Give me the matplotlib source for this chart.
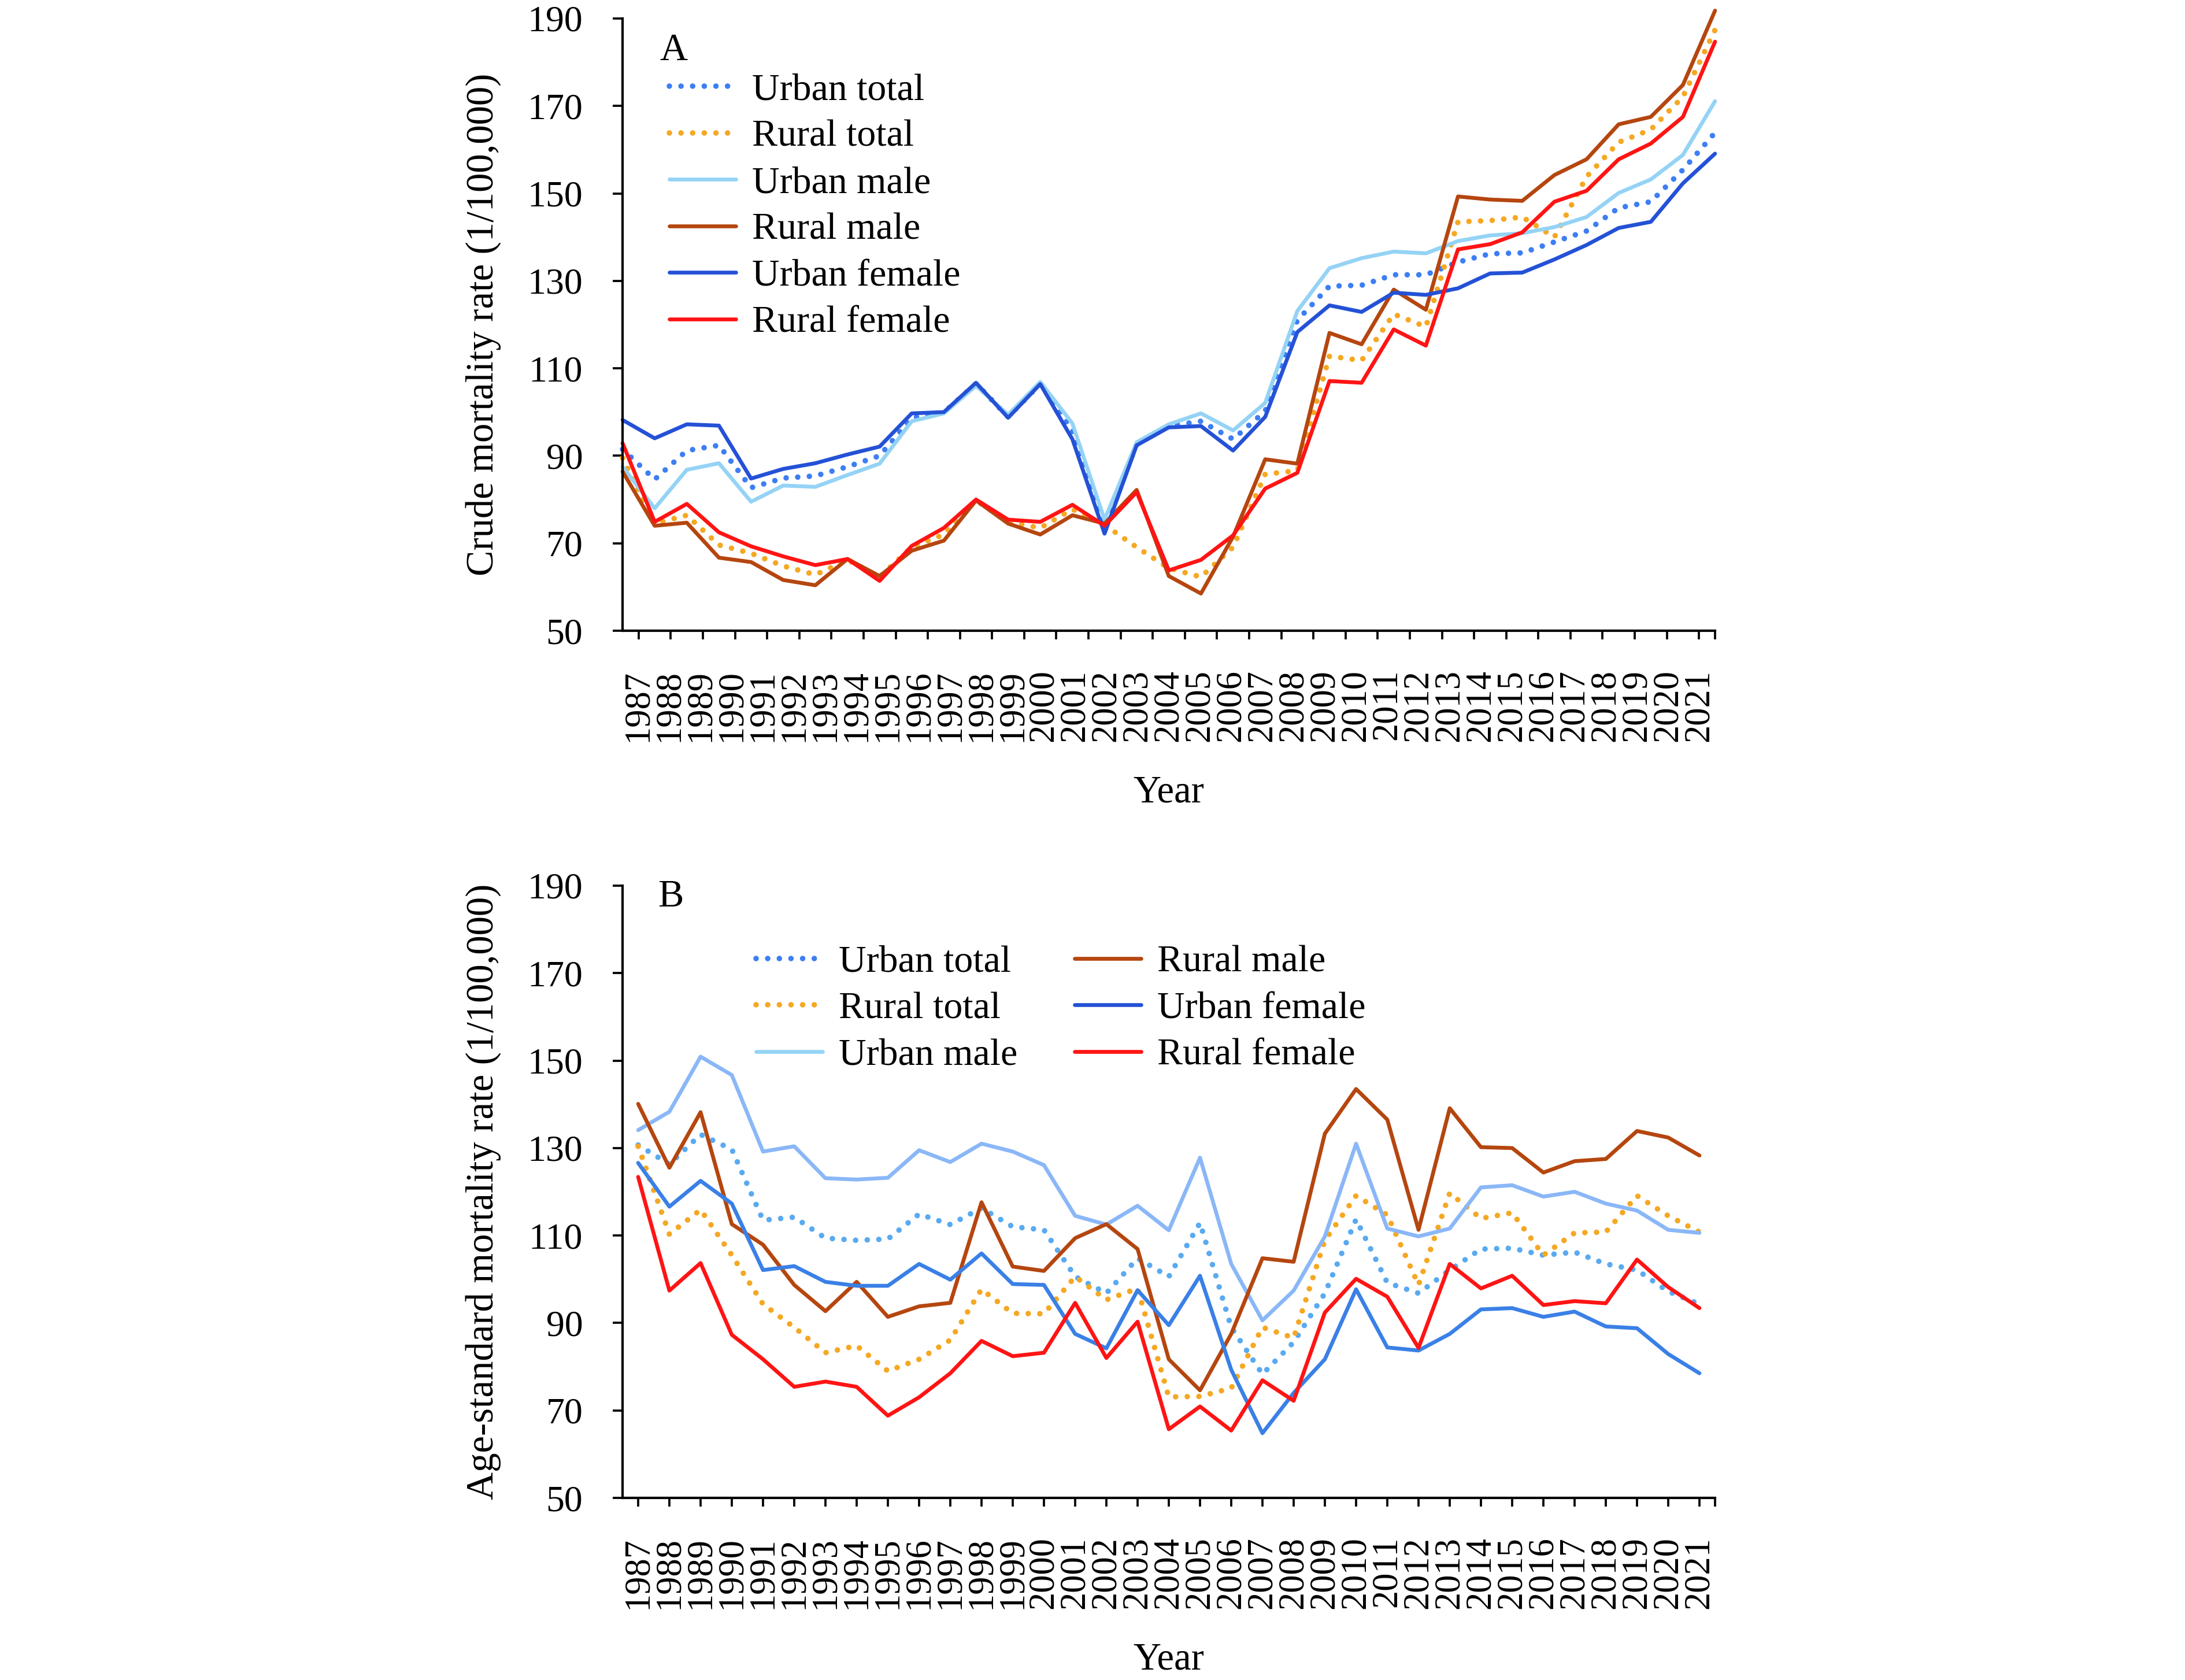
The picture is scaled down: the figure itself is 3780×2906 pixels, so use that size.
import matplotlib
matplotlib.use("Agg")
import matplotlib.pyplot as plt
from matplotlib.lines import Line2D

plt.rcParams['font.family'] = ['Liberation Serif', 'DejaVu Serif']

years = list(range(1987, 2022))

# Panel A: crude mortality rate (1/100,000)
a_urban_total = [91.5, 84.6, 91.2, 92.4, 82.7, 84.9, 85.4, 87.5, 90.0, 98.7, 99.9, 106.5, 98.9, 106.5,
                 95.8, 74.0, 92.6, 96.8, 97.9, 93.8, 100.2, 121.0, 128.8, 129.0, 131.4, 131.4, 134.3,
                 136.2, 136.4, 138.9, 141.4, 146.7, 148.1, 155.4, 163.9]
a_rural_total = [89.5, 74.5, 76.4, 69.6, 67.7, 64.8, 62.8, 66.2, 62.3, 69.1, 72.0, 79.8, 74.9, 73.5,
                 77.8, 74.2, 69.1, 64.3, 62.3, 69.1, 85.8, 86.6, 112.8, 111.8, 122.4, 119.5, 143.5,
                 143.8, 144.6, 140.0, 153.8, 161.7, 164.6, 172.1, 187.4]
a_urban_male = [87.5, 78.0, 86.8, 88.3, 79.5, 83.2, 82.9, 85.6, 88.2, 97.9, 99.7, 106.0, 99.4, 106.9,
                97.4, 75.4, 93.1, 97.2, 99.7, 95.8, 102.1, 123.1, 132.9, 135.2, 136.7, 136.3, 139.1,
                140.4, 140.9, 142.3, 144.6, 150.1, 153.2, 158.8, 171.1]
a_rural_male = [86.4, 74.0, 74.7, 66.7, 65.7, 61.6, 60.4, 66.4, 62.5, 68.3, 70.6, 79.8, 74.5, 72.0,
                76.4, 74.5, 82.2, 62.5, 58.5, 71.5, 89.2, 88.2, 118.1, 115.5, 128.0, 123.4, 149.3,
                148.6, 148.3, 154.2, 157.8, 165.8, 167.5, 174.8, 191.8]
a_urban_female = [98.2, 94.0, 97.2, 96.9, 84.8, 87.0, 88.3, 90.3, 92.1, 99.7, 100.0, 106.7, 98.7, 106.4,
                  93.8, 72.2, 92.4, 96.5, 96.8, 91.2, 98.9, 118.3, 124.4, 122.9, 127.3, 126.8, 128.3,
                  131.7, 131.9, 134.9, 138.2, 142.1, 143.5, 152.3, 159.1]
a_rural_female = [92.9, 74.9, 79.0, 72.5, 69.3, 67.0, 65.0, 66.4, 61.4, 69.4, 73.5, 80.0, 75.4, 74.9,
                  78.8, 74.0, 81.7, 63.8, 66.2, 71.8, 82.5, 86.1, 107.1, 106.7, 118.9, 115.2, 137.2,
                  138.4, 141.1, 148.1, 150.6, 157.8, 161.4, 167.5, 184.7]

# Panel B: age-standardized mortality rate (1/100,000)
b_urban_total = [130.7, 126.3, 133.1, 129.7, 113.5, 114.2, 109.4, 108.9, 109.2, 114.9, 112.5, 116.3,
                 112.0, 111.3, 100.6, 96.8, 104.8, 100.6, 112.9, 89.0, 78.3, 85.6, 96.8, 113.7, 99.2,
                 96.8, 102.1, 106.9, 107.1, 105.5, 106.2, 103.5, 102.1, 97.2, 94.3]
b_rural_total = [130.4, 110.3, 115.9, 105.5, 94.3, 89.0, 83.2, 84.8, 79.0, 81.7, 86.1, 97.7, 92.2, 92.1,
                 100.6, 95.3, 97.9, 73.1, 73.2, 75.1, 89.0, 86.6, 108.9, 119.1, 114.7, 98.7, 119.7,
                 113.9, 115.2, 105.5, 110.6, 110.8, 119.1, 114.5, 110.8]
b_urban_male = [134.1, 138.3, 150.9, 146.7, 129.2, 130.4, 123.1, 122.8, 123.2, 129.5, 126.8, 131.0,
                129.2, 126.1, 114.5, 112.5, 116.8, 111.2, 127.8, 103.5, 90.6, 97.4, 109.8, 131.0, 111.6,
                109.8, 111.6, 121.0, 121.5, 118.9, 120.0, 117.3, 115.7, 111.3, 110.6]
b_rural_male = [140.1, 125.5, 138.2, 112.6, 107.9, 98.7, 92.7, 99.4, 91.4, 93.8, 94.6, 117.6, 102.9,
                101.9, 109.4, 112.6, 106.9, 81.7, 74.6, 87.5, 104.8, 104.0, 133.3, 143.5, 136.5, 111.3,
                139.1, 130.2, 130.0, 124.4, 127.0, 127.5, 133.9, 132.4, 128.3]
b_urban_female = [126.6, 116.6, 122.5, 117.3, 102.1, 103.0, 99.4, 98.5, 98.5, 103.5, 99.9, 105.9, 98.9,
                  98.7, 87.5, 84.2, 97.5, 89.5, 100.8, 79.3, 64.8, 74.0, 81.7, 97.7, 84.4, 83.7, 87.5,
                  93.1, 93.4, 91.4, 92.6, 89.2, 88.8, 82.9, 78.5]
b_rural_female = [123.4, 97.4, 103.7, 87.3, 81.7, 75.4, 76.6, 75.4, 68.8, 73.0, 78.5, 85.9, 82.4, 83.2,
                  94.6, 82.0, 90.3, 65.7, 70.9, 65.4, 76.9, 72.2, 92.4, 100.1, 96.0, 84.3, 103.5, 97.9,
                  100.8, 94.1, 95.0, 94.5, 104.5, 98.2, 93.4]

series_names = ["Urban total", "Rural total", "Urban male", "Rural male", "Urban female", "Rural female"]
styles = ["dot", "dot", "solid", "solid", "solid", "solid"]
colors_a = ["#3D7EF3", "#F5A823", "#94D3F5", "#B5460F", "#2451D6", "#FF1414"]
colors_b = ["#59AAF0", "#F5A823", "#8AB7F7", "#B5460F", "#3A80E6", "#FF1414"]

yticks = list(range(50, 191, 20))

W, H = 3780, 2906
fig = plt.figure(figsize=(W / 300, H / 300), dpi=300)

def px_axes(left, top, right, bottom):
    return fig.add_axes([left / W, 1 - bottom / H, (right - left) / W, (bottom - top) / H])

axA = px_axes(1077, 32, 2967, 1091)
axB = px_axes(1077, 1532, 2967, 2591)

DOT = (0, (0.001, 2.1))
LW_DOT = 2.3
LW_SOLID = 1.6

def draw(ax, data, colors):
    x = list(range(len(years)))
    for vals, st, c in zip(data, styles, colors):
        if st == "dot":
            ax.plot(x, vals, color=c, lw=LW_DOT, linestyle=DOT, dash_capstyle='round', clip_on=False)
        else:
            ax.plot(x, vals, color=c, lw=LW_SOLID, solid_joinstyle='round', solid_capstyle='round',
                    clip_on=False)

def legend_handles(colors):
    hs = []
    for st, c in zip(styles, colors):
        if st == "dot":
            hs.append(Line2D([], [], color=c, lw=LW_DOT, linestyle=DOT, dash_capstyle='round'))
        else:
            hs.append(Line2D([], [], color=c, lw=LW_SOLID, solid_capstyle='round'))
    return hs

def style_axes(ax, ylabel):
    for s in ['top', 'right']:
        ax.spines[s].set_visible(False)
    for s in ['left', 'bottom']:
        ax.spines[s].set_linewidth(1.0)
    ax.set_ylim(50, 190)
    ax.set_yticks(yticks)
    ax.set_yticklabels([str(v) for v in yticks])
    ax.tick_params(axis='y', direction='out', length=4.0, width=0.9, pad=12.5, labelsize=15.3)
    ax.set_ylabel(ylabel, fontsize=16, va='center')
    ax.yaxis.set_label_coords(-0.1275, 0.5)
    ax.set_xlabel("Year", fontsize=16, va='center')
    ax.xaxis.set_label_coords(0.5, -0.264)

# Panel A
draw(axA, [a_urban_total, a_rural_total, a_urban_male, a_rural_male, a_urban_female, a_rural_female], colors_a)
style_axes(axA, "Crude mortality rate (1/100,000)")
n = len(years)
axA.set_xlim(0, n - 1)
axA.set_xticks([(k + 0.5) * (n - 1) / n for k in range(n)])
axA.set_xticklabels([str(y) for y in years], rotation=90)
axA.set_xticks([k + 0.5 for k in range(n - 1)] + [n - 1], minor=True)
axA.tick_params(axis='x', which='major', length=0, pad=16, labelsize=15)
axA.tick_params(axis='x', which='minor', direction='out', length=3.6, width=0.9)
axA.text(0.0466, 0.948, "A", transform=axA.transAxes, fontsize=16, ha='center', va='center')
axA.legend(legend_handles(colors_a), series_names, loc='upper left', bbox_to_anchor=(0.0429, 0.911),
           frameon=False, fontsize=15.8, borderpad=0, borderaxespad=0, labelspacing=0.31,
           handlelength=1.75, handletextpad=0.42)

# Panel B
draw(axB, [b_urban_total, b_rural_total, b_urban_male, b_rural_male, b_urban_female, b_rural_female], colors_b)
style_axes(axB, "Age-standard mortality rate (1/100,000)")
axB.set_xlim(-0.5, n - 0.5)
axB.set_xticks(list(range(n)))
axB.set_xticklabels([str(y) for y in years], rotation=90)
axB.set_xticks([n - 0.5], minor=True)
axB.tick_params(axis='x', which='both', direction='out', length=3.6, width=0.9, pad=12.4, labelsize=15)
axB.text(0.0442, 0.982, "B", transform=axB.transAxes, fontsize=16, ha='center', va='center')
axB.legend(legend_handles(colors_a), series_names, loc='upper left', bbox_to_anchor=(0.1222, 0.903),
           ncol=2, frameon=False, fontsize=15.8, borderpad=0, borderaxespad=0, labelspacing=0.31,
           handlelength=1.75, handletextpad=0.42, columnspacing=1.5)

fig.savefig("out.png", dpi=300)
